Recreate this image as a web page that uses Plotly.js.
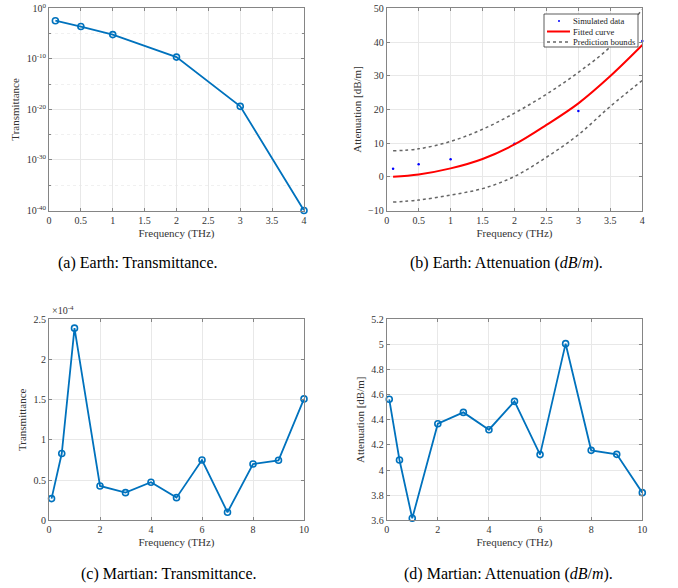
<!DOCTYPE html>
<html>
<head>
<meta charset="utf-8">
<script src="https://cdn.plot.ly/plotly-3.0.1.min.js"></script>
<style>html,body{margin:0;padding:0;background:#fff}#chart{width:678px;height:588px}</style>
</head>
<body>
<div id="chart"></div>
<script>
// ---- Data ----
var earthFreq = [0.1, 0.5, 1, 2, 3, 4];
var earthTransmittance = [3.5e-3, 2.5e-4, 6.3e-6, 2.2e-10, 4e-20, 1e-40];

var earthAttFreq = [0.1, 0.5, 1, 2, 3, 4];
var earthAttSimulated = [2.4, 3.7, 5.2, 9.8, 19.5, 40.3];
var fitFreq = [0.1, 0.5, 1, 1.5, 2, 2.5, 3, 3.5, 4];
var fittedCurve = [0.0, 0.7, 2.5, 5.3, 9.6, 15.4, 21.8, 29.9, 39.1];
var upperBound = [7.7, 8.3, 10.5, 14.1, 18.9, 24.5, 31.0, 38.6, 49.7];
var lowerBound = [-7.5, -6.9, -5.4, -3.5, 0.1, 5.8, 12.5, 20.9, 28.6];
var legendLabels = ['Simulated data', 'Fitted curve', 'Prediction bounds'];

var marsFreq = [0.1, 0.5, 1, 2, 3, 4, 5, 6, 7, 8, 9, 10];
var marsTransmittance = [0.27e-4, 0.83e-4, 2.39e-4, 0.427e-4, 0.344e-4, 0.473e-4, 0.282e-4, 0.75e-4, 0.10e-4, 0.70e-4, 0.746e-4, 1.51e-4];
var marsAttenuation = [4.563, 4.08, 3.616, 4.369, 4.459, 4.321, 4.547, 4.123, 5.006, 4.157, 4.125, 3.82];

var logTickVals = [1, 1e-10, 1e-20, 1e-30, 1e-40];
var logTickText = ['10<sup>0</sup>', '10<sup>-10</sup>', '10<sup>-20</sup>', '10<sup>-30</sup>', '10<sup>-40</sup>'];
var logMinorVals = [1e-5, 1e-15, 1e-25, 1e-35];
var marsTTickVals = [0, 0.5e-4, 1e-4, 1.5e-4, 2e-4, 2.5e-4];
var marsTTickText = ['0', '0.5', '1', '1.5', '2', '2.5'];

var captions = ['(a) Earth: Transmittance.', '(b) Earth: Attenuation (<i>dB</i>/<i>m</i>).',
                '(c) Martian: Transmittance.', '(d) Martian: Attenuation (<i>dB</i>/<i>m</i>).'];

// ---- Styles ----
var FONT = '"Liberation Serif", "DejaVu Serif", serif';
var BLUE = '#0072BD';
var GRAYDOT = '#666666';
var AXC = '#858585';
var lineStyle = {color: BLUE, width: 1.8};
var markerStyle = {symbol: 'circle-open', size: 6, color: BLUE, line: {width: 1.6, color: BLUE}};

var traces = [
  {x: earthFreq, y: earthTransmittance, xaxis: 'x', yaxis: 'y', mode: 'lines+markers', line: lineStyle, marker: markerStyle, cliponaxis: false},
  {x: earthAttFreq, y: earthAttSimulated, xaxis: 'x2', yaxis: 'y2', mode: 'markers', name: legendLabels[0], marker: {color: '#0000ff', size: 2.5, symbol: 'circle'}, cliponaxis: false},
  {x: fitFreq, y: fittedCurve, xaxis: 'x2', yaxis: 'y2', mode: 'lines', name: legendLabels[1], line: {color: '#ff0000', width: 2, shape: 'spline'}},
  {x: fitFreq, y: upperBound, xaxis: 'x2', yaxis: 'y2', mode: 'lines', name: legendLabels[2], line: {color: GRAYDOT, width: 1.5, dash: 'dot', shape: 'spline'}},
  {x: fitFreq, y: lowerBound, xaxis: 'x2', yaxis: 'y2', mode: 'lines', name: legendLabels[2], line: {color: GRAYDOT, width: 1.5, dash: 'dot', shape: 'spline'}},
  {x: marsFreq, y: marsTransmittance, xaxis: 'x3', yaxis: 'y3', mode: 'lines+markers', line: lineStyle, marker: markerStyle, cliponaxis: false},
  {x: marsFreq, y: marsAttenuation, xaxis: 'x4', yaxis: 'y4', mode: 'lines+markers', line: lineStyle, marker: markerStyle, cliponaxis: false}
];

function ax(extra) {
  var base = {
    showgrid: true, gridcolor: '#e8e8e8', gridwidth: 1,
    showline: true, linecolor: AXC, linewidth: 1, mirror: 'ticks',
    ticks: 'inside', ticklen: 3, tickcolor: AXC,
    zeroline: false,
    tickfont: {family: FONT, size: 10, color: '#333'},
    automargin: false
  };
  for (var k in extra) base[k] = extra[k];
  return base;
}
function xt(text) { return {text: text, font: {family: FONT, size: 11, color: '#333'}, standoff: 4}; }

var colL = [49/678, 304/678], colR = [386.7/678, 642.3/678];
var rowT = [1 - 210.5/588, 1 - 8.3/588], rowB = [1 - 520.3/588, 1 - 319.3/588];

// manual compact legend (MATLAB style box) in panel (b)
var LX0 = 544, LX1 = 638, LY0 = 14, LY1 = 47;
var rowsY = [21, 31.5, 42];
function px(x) { return x / 678; }
function py(y) { return 1 - y / 588; }
var shapes = [
  {type: 'rect', xref: 'paper', yref: 'paper', x0: px(LX0), x1: px(LX1), y0: py(LY1), y1: py(LY0), line: {color: '#333', width: 0.8}, fillcolor: '#fff', layer: 'above'},
  {type: 'circle', xref: 'paper', yref: 'paper', x0: px(558), x1: px(560), y0: py(rowsY[0] + 1), y1: py(rowsY[0] - 1), line: {width: 0}, fillcolor: '#0000ff', layer: 'above'},
  {type: 'line', xref: 'paper', yref: 'paper', x0: px(547), x1: px(570), y0: py(rowsY[1]), y1: py(rowsY[1]), line: {color: '#ff0000', width: 2}, layer: 'above'},
  {type: 'line', xref: 'paper', yref: 'paper', x0: px(547), x1: px(570), y0: py(rowsY[2]), y1: py(rowsY[2]), line: {color: GRAYDOT, width: 1.5, dash: 'dot'}, layer: 'above'}
];

var annotations = [
  {x: 138, y: 263, text: captions[0]},
  {x: 506, y: 263, text: captions[1]},
  {x: 169, y: 574, text: captions[2]},
  {x: 508, y: 574, text: captions[3]}
].map(function (a) {
  return {xref: 'paper', yref: 'paper', x: px(a.x), y: py(a.y), xanchor: 'center', yanchor: 'middle', text: a.text, showarrow: false, font: {family: FONT, size: 16, color: '#000'}};
});
annotations.push({xref: 'paper', yref: 'paper', x: px(50), y: py(318), xanchor: 'left', yanchor: 'bottom', text: '\u00d710<sup>-4</sup>', showarrow: false, font: {family: FONT, size: 10, color: '#333'}});
legendLabels.forEach(function (t, i) {
  annotations.push({xref: 'paper', yref: 'paper', x: px(571), y: py(rowsY[i]), xanchor: 'left', yanchor: 'middle', text: t, showarrow: false, font: {family: FONT, size: 8.6, color: '#222'}});
});

var layout = {
  width: 678, height: 588,
  margin: {l: 0, r: 0, t: 0, b: 0},
  paper_bgcolor: '#fff', plot_bgcolor: '#fff',
  font: {family: FONT, color: '#333'},
  showlegend: false,
  xaxis: ax({domain: colL, anchor: 'y', range: [0, 4], dtick: 0.5, tick0: 0, title: xt('Frequency (THz)')}),
  yaxis: ax({domain: rowT, anchor: 'x', type: 'log', range: [-40, 0], tickmode: 'array', tickvals: logTickVals, ticktext: logTickText,
             minor: {tickmode: 'array', tickvals: logMinorVals, ticks: 'inside', ticklen: 2, tickcolor: AXC, showgrid: true, gridcolor: '#f0f0f0', griddash: 'dot'},
             title: xt('Transmittance')}),
  xaxis2: ax({domain: colR, anchor: 'y2', range: [0, 4], dtick: 0.5, tick0: 0, title: xt('Frequency (THz)')}),
  yaxis2: ax({domain: rowT, anchor: 'x2', range: [-10, 50], dtick: 10, tick0: 0, title: xt('Attenuation [dB/m]')}),
  xaxis3: ax({domain: colL, anchor: 'y3', range: [0, 10], dtick: 2, tick0: 0, title: xt('Frequency (THz)')}),
  yaxis3: ax({domain: rowB, anchor: 'x3', range: [0, 2.5e-4], tickmode: 'array', tickvals: marsTTickVals, ticktext: marsTTickText, title: xt('Transmittance')}),
  xaxis4: ax({domain: colR, anchor: 'y4', range: [0, 10], dtick: 2, tick0: 0, title: xt('Frequency (THz)')}),
  yaxis4: ax({domain: rowB, anchor: 'x4', range: [3.6, 5.2], dtick: 0.2, tick0: 3.6, title: xt('Attenuation [dB/m]')}),
  shapes: shapes,
  annotations: annotations
};

Plotly.newPlot('chart', traces, layout, {staticPlot: true});
</script>
</body>
</html>
